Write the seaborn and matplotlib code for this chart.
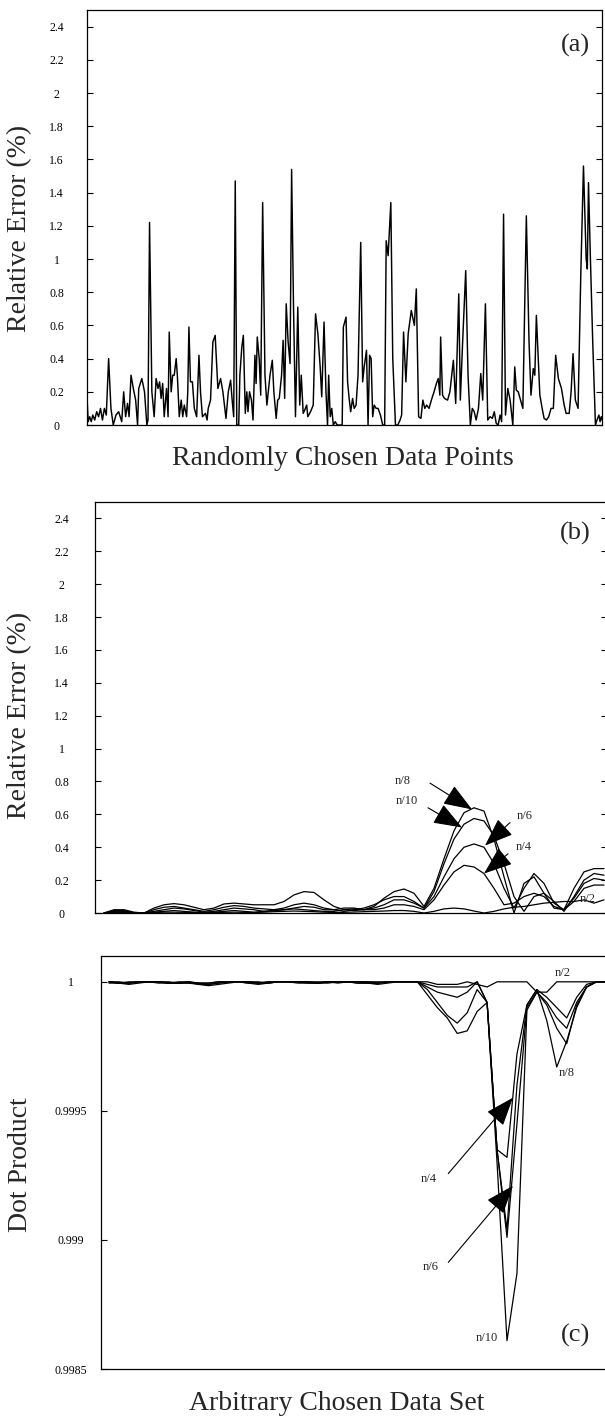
import matplotlib
matplotlib.use("Agg")
import matplotlib.pyplot as plt
import seaborn as sns
import pandas as pd
from matplotlib.ticker import FixedLocator, FixedFormatter

sns.set_style("white")
plt.rcParams['font.family'] = ['Liberation Serif', 'DejaVu Serif']

# ---------------- Panel (a): randomly chosen data points ----------------
a_point = [0, 3, 7, 11, 15, 20, 25, 30, 35, 40, 45, 50, 56, 62, 68, 75, 82, 90, 95, 100,
           105, 109, 114, 120, 126, 131, 134, 142, 149, 155, 158, 162, 168, 174, 179, 184, 188, 192, 196, 200,
           206, 210, 213, 218, 222, 226, 231, 234, 239, 244, 248, 252, 258, 261, 264, 268, 273, 278, 284, 290,
           294, 299, 307, 311, 314, 320, 326, 332, 339, 346, 352, 360, 366, 372, 376, 380, 384, 388, 393, 396,
           401, 405, 410, 414, 417, 421, 426, 430, 435, 438, 441, 446, 450, 455, 461, 466, 474, 480, 484, 490,
           494, 498, 504, 508, 512, 516, 521, 526, 530, 535, 540, 546, 551, 555, 560, 564, 569, 572, 579, 586,
           592, 598, 604, 608, 614, 619, 623, 626, 630, 634, 638, 643, 648, 654, 661, 664, 671, 675, 679, 683,
           688, 692, 697, 702, 709, 714, 718, 724, 728, 732, 736, 740, 744, 749, 754, 760, 766, 771, 775, 780,
           787, 792, 799, 805, 811, 815, 820, 826, 832, 840, 848, 853, 859, 865, 870, 875, 880, 886, 892, 899,
           905, 910, 914, 916, 921, 926, 934, 940, 949, 955, 963, 967, 973, 981, 987, 993, 998, 1003, 1008, 1014,
           1020, 1025, 1032, 1038, 1044, 1050, 1055, 1060, 1065, 1070, 1074, 1079, 1084, 1090, 1096, 1103, 1108, 1112, 1117, 1129,
           1138, 1145, 1150, 1156, 1160, 1164, 1169, 1173, 1179, 1184, 1190, 1196, 1202, 1208, 1214, 1221, 1229, 1236, 1241, 1249,
           1254, 1259, 1265, 1272, 1279, 1286, 1293, 1296, 1299, 1304, 1310, 1317, 1321, 1326, 1329, 1332, 1334]
a_error = [0.17, 0.02, 0.05, 0.02, 0.06, 0.03, 0.08, 0.05, 0.10, 0.03, 0.10, 0.06, 0.40, 0.10, 0.0, 0.06, 0.08, 0.02, 0.20, 0.05,
           0.13, 0.05, 0.30, 0.22, 0.15, 0.0, 0.22, 0.28, 0.20, 0.0, 0.03, 1.22, 0.20, 0.05, 0.28, 0.22, 0.26, 0.16, 0.25, 0.05,
           0.22, 0.05, 0.56, 0.20, 0.30, 0.30, 0.40, 0.30, 0.05, 0.15, 0.05, 0.12, 0.05, 0.20, 0.59, 0.26, 0.26, 0.10, 0.05, 0.42,
           0.20, 0.05, 0.07, 0.03, 0.10, 0.15, 0.50, 0.54, 0.22, 0.28, 0.20, 0.04, 0.20, 0.27, 0.15, 0.05, 1.47, 0.0, 0.0, 0.30,
           0.47, 0.54, 0.07, 0.20, 0.08, 0.20, 0.15, 0.03, 0.42, 0.25, 0.53, 0.40, 0.18, 1.34, 0.30, 0.12, 0.30, 0.39, 0.20, 0.04,
           0.15, 0.16, 0.30, 0.51, 0.16, 0.73, 0.50, 0.37, 1.54, 0.70, 0.05, 0.71, 0.12, 0.30, 0.07, 0.09, 0.12, 0.05, 0.08, 0.12,
           0.67, 0.55, 0.35, 0.17, 0.62, 0.20, 0.0, 0.30, 0.05, 0.10, 0.0, 0.02, 0.0, 0.0, 0.0, 0.59, 0.65, 0.26, 0.16, 0.08,
           0.16, 0.10, 0.12, 0.30, 1.10, 0.26, 0.35, 0.45, 0.0, 0.42, 0.40, 0.05, 0.12, 0.10, 0.10, 0.06, 0.0, 0.0, 1.11, 1.02,
           1.34, 0.40, 0.0, 0.0, 0.03, 0.06, 0.56, 0.26, 0.55, 0.69, 0.60, 0.82, 0.05, 0.04, 0.15, 0.10, 0.12, 0.10, 0.15, 0.20,
           0.25, 0.28, 0.18, 0.53, 0.18, 0.16, 0.15, 0.20, 0.39, 0.13, 0.79, 0.15, 0.50, 0.93, 0.30, 0.0, 0.10, 0.08, 0.03, 0.10,
           0.31, 0.15, 0.73, 0.03, 0.05, 0.04, 0.08, 0.01, 0.0, 0.06, 0.02, 1.27, 0.06, 0.22, 0.15, 0.0, 0.35, 0.21, 0.20, 0.10,
           1.26, 0.50, 0.18, 0.34, 0.30, 0.66, 0.40, 0.18, 0.10, 0.04, 0.03, 0.05, 0.10, 0.10, 0.42, 0.28, 0.22, 0.12, 0.07, 0.07,
           0.20, 0.43, 0.15, 0.10, 0.90, 1.56, 1.00, 0.94, 1.46, 1.00, 0.50, 0.0, 0.03, 0.06, 0.02, 0.05, 0.03]

# ---------------- Panel (b): relative error per subset size ----------------
b_index = list(range(51))
b_n2 = [0, 0.003, 0.003, 0, 0, 0.003, 0.005, 0.005, 0.004, 0.003,
        0, 0.002, 0.004, 0.005, 0.004, 0.003, 0.005, 0.008, 0.01, 0.012,
        0.01, 0.008, 0.005, 0.003, 0.004, 0.006, 0.008, 0.01, 0.012, 0.015,
        0.015, 0.01, 0.0, 0.01, 0.025, 0.03, 0.025, 0.012, 0.0, 0.01,
        0.025, 0.035, 0.04, 0.05, 0.06, 0.065, 0.07, 0.07, 0.08, 0.06, 0.08]
b_n4 = [0.0, 0.005, 0.005, 0.0, 0.0, 0.005, 0.01, 0.015, 0.01, 0.005,
        0.0, 0.005, 0.01, 0.015, 0.01, 0.005, 0.01, 0.015, 0.02, 0.025,
        0.02, 0.015, 0.01, 0.01, 0.02, 0.025, 0.02, 0.02, 0.03, 0.05,
        0.05, 0.04, 0.02, 0.08, 0.17, 0.25, 0.29, 0.28, 0.24, 0.15,
        0.05, 0.06, 0.10, 0.12, 0.10, 0.04, 0.02, 0.07, 0.15, 0.17, 0.17]
b_n6 = [0.0, 0.01, 0.01, 0.0, 0.0, 0.01, 0.02, 0.03, 0.025, 0.015,
        0.005, 0.01, 0.02, 0.03, 0.025, 0.02, 0.01, 0.015, 0.02, 0.03,
        0.04, 0.035, 0.02, 0.02, 0.03, 0.03, 0.02, 0.03, 0.05, 0.08,
        0.08, 0.06, 0.03, 0.10, 0.22, 0.33, 0.40, 0.42, 0.40, 0.30,
        0.15, 0.03, 0.15, 0.24, 0.18, 0.06, 0.02, 0.09, 0.18, 0.21, 0.20]
b_n8 = [0.0, 0.02, 0.02, 0.005, 0.0, 0.03, 0.05, 0.057, 0.05, 0.035,
        0.02, 0.03, 0.055, 0.06, 0.055, 0.05, 0.05, 0.05, 0.07, 0.11,
        0.13, 0.125, 0.08, 0.04, 0.02, 0.015, 0.02, 0.04, 0.09, 0.13,
        0.146, 0.12, 0.04, 0.15, 0.33, 0.50, 0.61, 0.64, 0.62, 0.45,
        0.22, 0.0, 0.18, 0.22, 0.12, 0.03, 0.02, 0.15, 0.25, 0.27, 0.27]
b_n10 = [0.0, 0.015, 0.015, 0.0, 0.0, 0.02, 0.035, 0.04, 0.03, 0.02,
         0.01, 0.02, 0.035, 0.045, 0.04, 0.03, 0.025, 0.02, 0.03, 0.05,
         0.06, 0.05, 0.03, 0.02, 0.01, 0.02, 0.03, 0.05, 0.08, 0.10,
         0.10, 0.07, 0.03, 0.13, 0.30, 0.45, 0.54, 0.575, 0.56, 0.47,
         0.30, 0.10, 0.01, 0.10, 0.12, 0.07, 0.01, 0.10, 0.20, 0.24, 0.23]

# ---------------- Panel (c): dot product per subset size ----------------
c_index = list(range(51))
c_n2 = [1.0, 0.999995, 1.0, 1.0, 1.0, 1.0, 0.999995, 1.0, 1.0, 0.999995,
        0.999995, 1.0, 1.0, 1.0, 1.0, 0.999995, 1.0, 1.0, 1.0, 1.0,
        1.0, 1.0, 1.0, 0.999995, 1.0, 1.0, 1.0, 1.0, 1.0, 1.0,
        1.0, 1.0, 1.0, 0.99999, 0.99999, 0.99999, 1.0, 0.99999, 0.99998, 1.0,
        1.0, 1.0, 1.0, 0.99996, 0.99996, 1.0, 1.0, 1.0, 1.0, 1.0, 1.0]
c_n4 = [1.0, 1.0, 0.999995, 1.0, 1.0, 1.0, 1.0, 0.999995, 1.0, 0.999995,
        0.999995, 1.0, 1.0, 1.0, 1.0, 1.0, 0.999995, 1.0, 1.0, 1.0,
        1.0, 0.999995, 1.0, 1.0, 1.0, 1.0, 1.0, 0.999995, 1.0, 1.0,
        1.0, 1.0, 0.99999, 0.99998, 0.99998, 0.99998, 0.99998, 1.0, 0.99992, 0.99935,
        0.99932, 0.99972, 0.99991, 0.99997, 0.99994, 0.9999, 0.99986, 0.99994, 0.99999, 1.0, 1.0]
c_n6 = [1.0, 0.999995, 0.999995, 1.0, 1.0, 1.0, 0.999995, 0.999995, 1.0, 0.99999,
        0.99999, 0.999995, 1.0, 1.0, 0.999995, 0.999995, 1.0, 1.0, 1.0, 1.0,
        0.999995, 0.999995, 1.0, 1.0, 1.0, 0.999995, 0.999995, 0.999995, 1.0, 1.0,
        1.0, 1.0, 0.99998, 0.99996, 0.99995, 0.99994, 0.99996, 1.0, 0.99992, 0.99935,
        0.99901, 0.99945, 0.9999, 0.99996, 0.99992, 0.99986, 0.99982, 0.99992, 0.99998, 1.0, 1.0]
c_n8 = [1.0, 0.999995, 0.999995, 1.0, 1.0, 1.0, 0.999995, 0.999995, 0.999995, 0.999995,
        0.99999, 0.999995, 1.0, 1.0, 1.0, 0.999995, 0.999995, 1.0, 1.0, 1.0,
        1.0, 0.999995, 0.999995, 1.0, 1.0, 1.0, 0.999995, 0.999995, 1.0, 1.0,
        1.0, 1.0, 0.99995, 0.9999, 0.99986, 0.9998, 0.99981, 0.999885, 0.99992, 0.99935,
        0.99904, 0.9996, 0.99991, 0.99997, 0.99985, 0.99967, 0.99977, 0.9999, 0.99998, 1.0, 1.0]
c_n10 = [0.999995, 0.999995, 0.99999, 0.999995, 1.0, 0.999995, 0.999995, 0.999995, 0.999995, 0.99999,
         0.999985, 0.99999, 0.999995, 1.0, 0.999995, 0.99999, 0.999995, 1.0, 1.0, 0.999995,
         0.999995, 0.999995, 1.0, 1.0, 1.0, 0.999995, 0.999995, 0.99999, 0.999995, 1.0,
         1.0, 1.0, 0.99997, 0.99992, 0.99987, 0.99984, 0.99988, 0.99997, 0.99992, 0.9993,
         0.99861, 0.99887, 0.99989, 0.99996, 0.99991, 0.99982, 0.99976, 0.99991, 0.99998, 1.0, 1.0]

subsets = ['n/2', 'n/4', 'n/6', 'n/8', 'n/10']
b_series = [b_n2, b_n4, b_n6, b_n8, b_n10]
c_series = [c_n2, c_n4, c_n6, c_n8, c_n10]

df_a = pd.DataFrame({'point': a_point, 'error': a_error})
df_b = pd.DataFrame({'index': b_index * 5,
                     'error': sum(b_series, []),
                     'subset': [s for s in subsets for _ in b_index]})
df_c = pd.DataFrame({'index': c_index * 5,
                     'dot': sum(c_series, []),
                     'subset': [s for s in subsets for _ in c_index]})

W, H = 605, 1423
fig = plt.figure(figsize=(W / 100, H / 100), dpi=100)


def box(l, t, r, b):
    return [l / W, 1 - b / H, (r - l) / W, (b - t) / H]


ax_a = fig.add_axes(box(87, 10, 602, 425))
ax_b = fig.add_axes(box(95, 502, 606.5, 913))
ax_c = fig.add_axes(box(101, 956, 607, 1369))

black = {s: 'black' for s in subsets}

sns.lineplot(data=df_a, x='point', y='error', ax=ax_a, color='black', lw=1.05,
             estimator=None, sort=False)
sns.lineplot(data=df_b, x='index', y='error', hue='subset', palette=black, ax=ax_b,
             lw=0.9, estimator=None, sort=False, legend=False)
sns.lineplot(data=df_c, x='index', y='dot', hue='subset', palette=black, ax=ax_c,
             lw=0.9, estimator=None, sort=False, legend=False)

err_ticks = [0, 0.2, 0.4, 0.6, 0.8, 1, 1.2, 1.4, 1.6, 1.8, 2, 2.2, 2.4]
err_labels = ['0', '0.2', '0.4', '0.6', '0.8', '1', '1.2', '1.4', '1.6', '1.8', '2', '2.2', '2.4']
dot_ticks = [0.9985, 0.999, 0.9995, 1.0]
dot_labels = ['0.9985', '0.999', '0.9995', '1']

ax_a.set_xlim(0, 1334)
ax_a.set_ylim(0, 2.5)
ax_b.set_xlim(-0.9, 50.25)
ax_b.set_ylim(0, 2.5)
ax_c.set_xlim(-0.8, 50.05)
ax_c.set_ylim(0.9985, 1.0001)

for ax, ticks, labels, pad, right in [(ax_a, err_ticks, err_labels, 22, True),
                                      (ax_b, err_ticks, err_labels, 24, True),
                                      (ax_c, dot_ticks, dot_labels, 22, False)]:
    ax.yaxis.set_major_locator(FixedLocator(ticks))
    ax.yaxis.set_major_formatter(FixedFormatter(labels))
    ax.set_xticks([])
    ax.set_xlabel('')
    ax.set_ylabel('')
    ax.tick_params(axis='y', which='major', direction='in', left=True, right=right,
                   labelleft=True, labelright=False, length=4, width=0.8,
                   labelsize=8.5, pad=pad, colors='black')
    for lab in ax.get_yticklabels():
        lab.set_horizontalalignment('center')
    for sp in ax.spines.values():
        sp.set_color('black')
        sp.set_linewidth(0.9)
    ax.set_facecolor('white')

# axis titles
fig.text(20 / W, 1 - 228 / H, 'Relative Error (%)', rotation=90, ha='center', va='center', fontsize=20)
fig.text(343 / W, 1 - 458 / H, 'Randomly Chosen Data Points', ha='center', va='center', fontsize=20)
fig.text(20 / W, 1 - 715 / H, 'Relative Error (%)', rotation=90, ha='center', va='center', fontsize=20)
fig.text(21 / W, 1 - 1165 / H, 'Dot Product', rotation=90, ha='center', va='center', fontsize=20)
fig.text(337 / W, 1 - 1403 / H, 'Arbitrary Chosen Data Set', ha='center', va='center', fontsize=20)

# panel letters
ax_a.text(0.9476, 0.9157, '(a)', transform=ax_a.transAxes, ha='center', va='center', fontsize=19)
ax_b.text(0.938, 0.9246, '(b)', transform=ax_b.transAxes, ha='center', va='center', fontsize=19)
ax_c.text(0.937, 0.082, '(c)', transform=ax_c.transAxes, ha='center', va='center', fontsize=19)

arrow = dict(arrowstyle='-|>,head_length=1.2,head_width=0.45', mutation_scale=15,
             lw=0.8, color='black', shrinkA=0, shrinkB=0)
fs = 9

# panel (b) annotations
ax_b.text(29.9, 0.80, 'n/8', ha='center', va='center', fontsize=fs)
ax_b.annotate('', xy=(36.8, 0.63), xytext=(32.6, 0.79), arrowprops=arrow)
ax_b.text(30.3, 0.68, 'n/10', ha='center', va='center', fontsize=fs)
ax_b.annotate('', xy=(35.8, 0.52), xytext=(32.4, 0.64), arrowprops=arrow)
ax_b.text(42.1, 0.59, 'n/6', ha='center', va='center', fontsize=fs)
ax_b.annotate('', xy=(38.1, 0.41), xytext=(40.6, 0.55), arrowprops=arrow)
ax_b.text(42.0, 0.40, 'n/4', ha='center', va='center', fontsize=fs)
ax_b.annotate('', xy=(38.0, 0.24), xytext=(40.4, 0.36), arrowprops=arrow)
ax_b.text(48.4, 0.085, 'n/2', ha='center', va='center', fontsize=fs)

# panel (c) annotations
ax_c.text(32.1, 0.999238, 'n/4', ha='center', va='center', fontsize=fs)
ax_c.annotate('', xy=(40.6, 0.999551), xytext=(34.1, 0.999257), arrowprops=arrow)
ax_c.text(32.3, 0.998894, 'n/6', ha='center', va='center', fontsize=fs)
ax_c.annotate('', xy=(40.6, 0.99921), xytext=(34.1, 0.998913), arrowprops=arrow)
ax_c.text(38.0, 0.99862, 'n/10', ha='center', va='center', fontsize=fs)
ax_c.text(46.0, 0.999647, 'n/8', ha='center', va='center', fontsize=fs)
ax_c.text(45.6, 1.0000336, 'n/2', ha='center', va='center', fontsize=fs)

fig.savefig('out.png', dpi=100, facecolor='white')
